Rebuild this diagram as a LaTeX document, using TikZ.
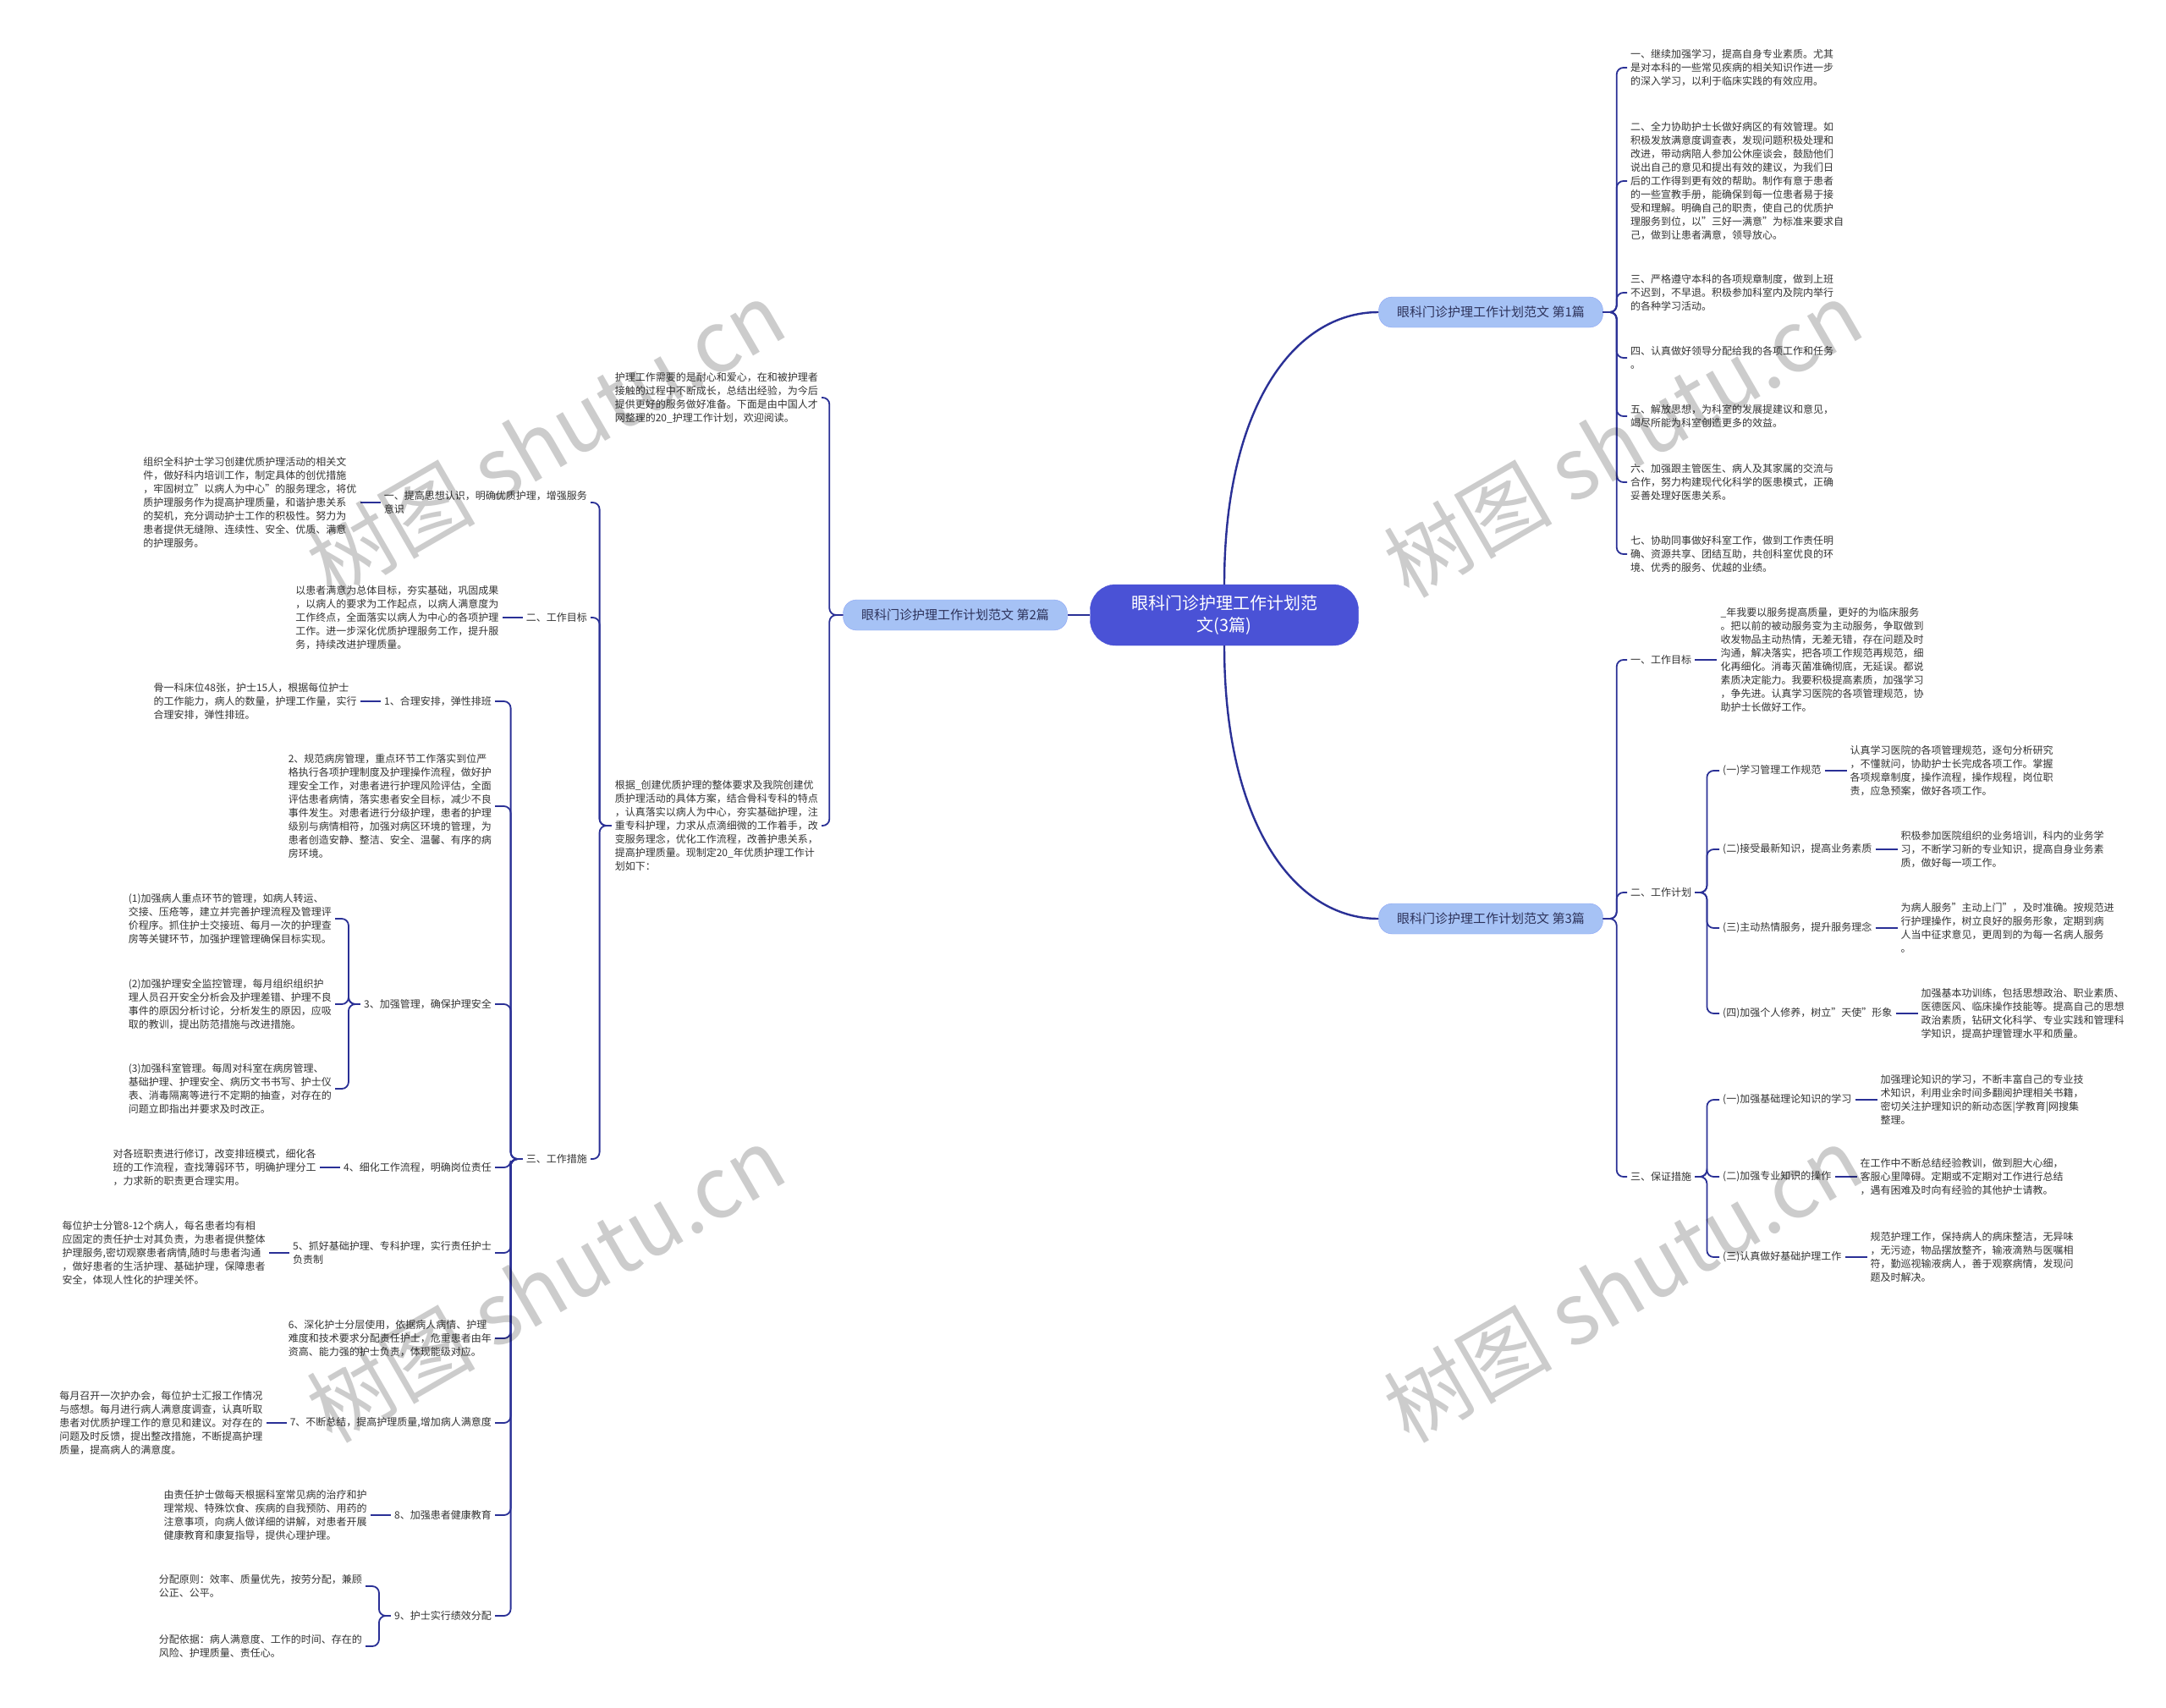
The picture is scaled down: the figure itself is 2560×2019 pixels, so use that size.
\documentclass[tikz,border=0pt]{standalone}
\usepackage{fontspec}
\setmainfont{Noto Sans CJK SC}
\usepackage{xcolor}
\usepackage{tikz}
\usetikzlibrary{positioning}
\definecolor{linecol}{RGB}{42,48,150}
\definecolor{rootcol}{RGB}{74,82,214}
\definecolor{branchcol}{RGB}{166,194,245}
\definecolor{textcol}{RGB}{51,51,51}
\tikzstyle{root} = [draw=rootcol, fill=rootcol, text=white, rounded corners=30pt, minimum width=317pt, minimum height=72pt, align=center, font=\fontsize{20}{26}\selectfont]
\tikzstyle{branch} = [draw=branchcol!85!blue, fill=branchcol, text={rgb,255:red,45;green,50;blue,90}, rounded corners=16pt, minimum width=265pt, minimum height=36pt, font=\fontsize{15}{18}\selectfont]
\tikzstyle{topic} = [inner xsep=4pt, inner ysep=2pt, align=left, text=textcol, font=\fontsize{12}{16}\selectfont]
\tikzstyle{detail} = [topic]
\tikzstyle{conn} = [draw=linecol, line width=1.8pt, rounded corners=8pt]
\tikzstyle{trunk} = [draw=linecol, line width=2.4pt]
\tikzstyle{wmark} = [rotate=30, text=black, text opacity=0.2, font=\fontsize{100}{110}\selectfont]

\begin{document}
\begin{tikzpicture}[x=1pt, y=-1pt, node distance=24pt]
    % 背景
    \path [fill=white] (0,0) rectangle (2560,2019);

    % 中心主题
    \node [root] (root) at (1447,727) {眼科门诊护理工作计划范\\文(3篇)};
    \node [branch] (B1) at (1762,369) {眼科门诊护理工作计划范文 第1篇};
    \node [branch] (B2) at (1129,727) {眼科门诊护理工作计划范文 第2篇};
    \node [branch] (B3) at (1762,1086) {眼科门诊护理工作计划范文 第3篇};

    \draw [trunk] (root.north) .. controls +(0,-210) and +(-100,0) .. (B1.west);
    \draw [trunk] (root.south) .. controls +(0,210) and +(-100,0) .. (B3.west);
    \draw [trunk] (root.west) -- (B2.east);

    % 第1篇
    \node [detail, anchor=west] (P1) at (1923,80) {一、继续加强学习，提高自身专业素质。尤其\\是对本科的一些常见疾病的相关知识作进一步\\的深入学习，以利于临床实践的有效应用。};
    \node [detail, anchor=west] (P2) at (1923,214) {二、全力协助护士长做好病区的有效管理。如\\积极发放满意度调查表，发现问题积极处理和\\改进，带动病陪人参加公休座谈会，鼓励他们\\说出自己的意见和提出有效的建议，为我们日\\后的工作得到更有效的帮助。制作有意于患者\\的一些宣教手册，能确保到每一位患者易于接\\受和理解。明确自己的职责，使自己的优质护\\理服务到位，以"三好一满意"为标准来要求自\\己，做到让患者满意，领导放心。};
    \node [detail, anchor=west] (P3) at (1923,346) {三、严格遵守本科的各项规章制度，做到上班\\不迟到，不早退。积极参加科室内及院内举行\\的各种学习活动。};
    \node [detail, anchor=west] (P4) at (1923,423) {四、认真做好领导分配给我的各项工作和任务\\。};
    \node [detail, anchor=west] (P5) at (1923,492) {五、解放思想，为科室的发展提建议和意见，\\竭尽所能为科室创造更多的效益。};
    \node [detail, anchor=west] (P6) at (1923,570) {六、加强跟主管医生、病人及其家属的交流与\\合作，努力构建现代化科学的医患模式，正确\\妥善处理好医患关系。};
    \node [detail, anchor=west] (P7) at (1923,655) {七、协助同事做好科室工作，做到工作责任明\\确、资源共享、团结互助，共创科室优良的环\\境、优秀的服务、优越的业绩。};

    \draw [conn] (B1.east) -- ++(16,0) |- (P1.west);
    \draw [conn] (B1.east) -- ++(16,0) |- (P2.west);
    \draw [conn] (B1.east) -- ++(16,0) |- (P3.west);
    \draw [conn] (B1.east) -- ++(16,0) |- (P4.west);
    \draw [conn] (B1.east) -- ++(16,0) |- (P5.west);
    \draw [conn] (B1.east) -- ++(16,0) |- (P6.west);
    \draw [conn] (B1.east) -- ++(16,0) |- (P7.west);

    % 第3篇
    \node [topic, anchor=west] (L31) at (1923,780) {一、工作目标};
    \node [detail, right=26pt of L31] (L31t) {\_年我要以服务提高质量，更好的为临床服务\\。把以前的被动服务变为主动服务，争取做到\\收发物品主动热情，无差无错，存在问题及时\\沟通，解决落实，把各项工作规范再规范，细\\化再细化。消毒灭菌准确彻底，无延误。都说\\素质决定能力。我要积极提高素质，加强学习\\，争先进。认真学习医院的各项管理规范，协\\助护士长做好工作。};
    \node [topic, anchor=west] (L32) at (1923,1055) {二、工作计划};
    \node [topic, anchor=west] (L321) at (2032,911) {(一)学习管理工作规范};
    \node [detail, right=26pt of L321] (L321t) {认真学习医院的各项管理规范，逐句分析研究\\，不懂就问，协助护士长完成各项工作。掌握\\各项规章制度，操作流程，操作规程，岗位职\\责，应急预案，做好各项工作。};
    \node [topic, anchor=west] (L322) at (2032,1004) {(二)接受最新知识，提高业务素质};
    \node [detail, right=26pt of L322] (L322t) {积极参加医院组织的业务培训，科内的业务学\\习，不断学习新的专业知识，提高自身业务素\\质，做好每一项工作。};
    \node [topic, anchor=west] (L323) at (2032,1097) {(三)主动热情服务，提升服务理念};
    \node [detail, right=26pt of L323] (L323t) {为病人服务"主动上门"，及时准确。按规范进\\行护理操作，树立良好的服务形象，定期到病\\人当中征求意见，更周到的为每一名病人服务\\。};
    \node [topic, anchor=west] (L324) at (2032,1198) {(四)加强个人修养，树立"天使"形象};
    \node [detail, right=26pt of L324] (L324t) {加强基本功训练，包括思想政治、职业素质、\\医德医风、临床操作技能等。提高自己的思想\\政治素质，钻研文化科学、专业实践和管理科\\学知识，提高护理管理水平和质量。};
    \node [topic, anchor=west] (L33) at (1923,1391) {三、保证措施};
    \node [topic, anchor=west] (L331) at (2032,1300) {(一)加强基础理论知识的学习};
    \node [detail, right=26pt of L331] (L331t) {加强理论知识的学习，不断丰富自己的专业技\\术知识，利用业余时间多翻阅护理相关书籍，\\密切关注护理知识的新动态医|学教育|网搜集\\整理。};
    \node [topic, anchor=west] (L332) at (2032,1391) {(二)加强专业知识的操作};
    \node [detail, right=26pt of L332] (L332t) {在工作中不断总结经验教训，做到胆大心细，\\客服心里障碍。定期或不定期对工作进行总结\\，遇有困难及时向有经验的其他护士请教。};
    \node [topic, anchor=west] (L333) at (2032,1486) {(三)认真做好基础护理工作};
    \node [detail, right=26pt of L333] (L333t) {规范护理工作，保持病人的病床整洁，无异味\\，无污迹，物品摆放整齐，输液滴熟与医嘱相\\符，勤巡视输液病人，善于观察病情，发现问\\题及时解决。};

    \draw [conn] (B3.east) -- ++(16,0) |- (L31.west);
    \draw [conn] (B3.east) -- ++(16,0) |- (L32.west);
    \draw [conn] (B3.east) -- ++(16,0) |- (L33.west);
    \draw [conn] (L31.east) -- (L31t.west);
    \draw [conn] (L32.east) -- ++(14,0) |- (L321.west);
    \draw [conn] (L32.east) -- ++(14,0) |- (L322.west);
    \draw [conn] (L32.east) -- ++(14,0) |- (L323.west);
    \draw [conn] (L32.east) -- ++(14,0) |- (L324.west);
    \draw [conn] (L33.east) -- ++(14,0) |- (L331.west);
    \draw [conn] (L33.east) -- ++(14,0) |- (L332.west);
    \draw [conn] (L33.east) -- ++(14,0) |- (L333.west);
    \draw [conn] (L321.east) -- (L321t.west);
    \draw [conn] (L322.east) -- (L322t.west);
    \draw [conn] (L323.east) -- (L323t.west);
    \draw [conn] (L324.east) -- (L324t.west);
    \draw [conn] (L331.east) -- (L331t.west);
    \draw [conn] (L332.east) -- (L332t.west);
    \draw [conn] (L333.east) -- (L333t.west);

    % 第2篇
    \node [detail, anchor=east] (I0) at (971,470) {护理工作需要的是耐心和爱心，在和被护理者\\接触的过程中不断成长，总结出经验，为今后\\提供更好的服务做好准备。下面是由中国人才\\网整理的20\_护理工作计划，欢迎阅读。};
    \node [detail, anchor=east] (I1) at (971,976) {根据\_创建优质护理的整体要求及我院创建优\\质护理活动的具体方案，结合骨科专科的特点\\，认真落实以病人为中心，夯实基础护理，注\\重专科护理，力求从点滴细微的工作着手，改\\变服务理念，优化工作流程，改善护患关系，\\提高护理质量。现制定20\_年优质护理工作计\\划如下：};
    \node [topic, anchor=east] (M1) at (698,594) {一、提高思想认识，明确优质护理，增强服务\\意识};
    \node [detail, left=24pt of M1] (M1t) {组织全科护士学习创建优质护理活动的相关文\\件，做好科内培训工作，制定具体的创优措施\\，牢固树立"以病人为中心"的服务理念，将优\\质护理服务作为提高护理质量，和谐护患关系\\的契机，充分调动护士工作的积极性。努力为\\患者提供无缝隙、连续性、安全、优质、满意\\的护理服务。};
    \node [topic, anchor=east] (M2) at (698,730) {二、工作目标};
    \node [detail, left=24pt of M2] (M2t) {以患者满意为总体目标，夯实基础，巩固成果\\，以病人的要求为工作起点，以病人满意度为\\工作终点，全面落实以病人为中心的各项护理\\工作。进一步深化优质护理服务工作，提升服\\务，持续改进护理质量。};
    \node [topic, anchor=east] (M3) at (698,1370) {三、工作措施};

    \node [topic, anchor=east] (N1) at (585,829) {1、合理安排，弹性排班};
    \node [detail, left=24pt of N1] (N1t) {骨一科床位48张，护士15人，根据每位护士\\的工作能力，病人的数量，护理工作量，实行\\合理安排，弹性排班。};
    \node [detail, anchor=east] (N2) at (585,953) {2、规范病房管理，重点环节工作落实到位严\\格执行各项护理制度及护理操作流程，做好护\\理安全工作，对患者进行护理风险评估，全面\\评估患者病情，落实患者安全目标，减少不良\\事件发生。对患者进行分级护理，患者的护理\\级别与病情相符，加强对病区环境的管理，为\\患者创造安静、整洁、安全、温馨、有序的病\\房环境。};
    \node [topic, anchor=east] (N3) at (585,1187) {3、加强管理，确保护理安全};
    \node [detail, anchor=east] (N31) at (396,1086) {(1)加强病人重点环节的管理，如病人转运、\\交接、压疮等，建立并完善护理流程及管理评\\价程序。抓住护士交接班、每月一次的护理查\\房等关键环节，加强护理管理确保目标实现。};
    \node [detail, anchor=east] (N32) at (396,1187) {(2)加强护理安全监控管理，每月组织组织护\\理人员召开安全分析会及护理差错、护理不良\\事件的原因分析讨论，分析发生的原因，应吸\\取的教训，提出防范措施与改进措施。};
    \node [detail, anchor=east] (N33) at (396,1287) {(3)加强科室管理。每周对科室在病房管理、\\基础护理、护理安全、病历文书书写、护士仪\\表、消毒隔离等进行不定期的抽查，对存在的\\问题立即指出并要求及时改正。};
    \node [topic, anchor=east] (N4) at (585,1380) {4、细化工作流程，明确岗位责任};
    \node [detail, left=24pt of N4] (N4t) {对各班职责进行修订，改变排班模式，细化各\\班的工作流程，查找薄弱环节，明确护理分工\\，力求新的职责更合理实用。};
    \node [topic, anchor=east] (N5) at (585,1481) {5、抓好基础护理、专科护理，实行责任护士\\负责制};
    \node [detail, left=24pt of N5] (N5t) {每位护士分管8-12个病人，每名患者均有相\\应固定的责任护士对其负责，为患者提供整体\\护理服务,密切观察患者病情,随时与患者沟通\\，做好患者的生活护理、基础护理，保障患者\\安全，体现人性化的护理关怀。};
    \node [detail, anchor=east] (N6) at (585,1582) {6、深化护士分层使用，依据病人病情、护理\\难度和技术要求分配责任护士，危重患者由年\\资高、能力强的护士负责，体现能级对应。};
    \node [topic, anchor=east] (N7) at (585,1682) {7、不断总结，提高护理质量,增加病人满意度};
    \node [detail, left=24pt of N7] (N7t) {每月召开一次护办会，每位护士汇报工作情况\\与感想。每月进行病人满意度调查，认真听取\\患者对优质护理工作的意见和建议。对存在的\\问题及时反馈，提出整改措施，不断提高护理\\质量，提高病人的满意度。};
    \node [topic, anchor=east] (N8) at (585,1791) {8、加强患者健康教育};
    \node [detail, left=24pt of N8] (N8t) {由责任护士做每天根据科室常见病的治疗和护\\理常规、特殊饮食、疾病的自我预防、用药的\\注意事项，向病人做详细的讲解，对患者开展\\健康教育和康复指导，提供心理护理。};
    \node [topic, anchor=east] (N9) at (585,1910) {9、护士实行绩效分配};
    \node [detail, anchor=east] (N91) at (432,1875) {分配原则：效率、质量优先，按劳分配，兼顾\\公正、公平。};
    \node [detail, anchor=east] (N92) at (432,1946) {分配依据：病人满意度、工作的时间、存在的\\风险、护理质量、责任心。};

    \draw [conn] (B2.west) -- ++(-16,0) |- (I0.east);
    \draw [conn] (B2.west) -- ++(-16,0) |- (I1.east);
    \draw [conn] (I1.west) -- ++(-14,0) |- (M1.east);
    \draw [conn] (I1.west) -- ++(-14,0) |- (M2.east);
    \draw [conn] (I1.west) -- ++(-14,0) |- (M3.east);
    \draw [conn] (M1.west) -- (M1t.east);
    \draw [conn] (M2.west) -- (M2t.east);
    \draw [conn] (M3.west) -- ++(-14,0) |- (N1.east);
    \draw [conn] (M3.west) -- ++(-14,0) |- (N2.east);
    \draw [conn] (M3.west) -- ++(-14,0) |- (N3.east);
    \draw [conn] (M3.west) -- ++(-14,0) |- (N4.east);
    \draw [conn] (M3.west) -- ++(-14,0) |- (N5.east);
    \draw [conn] (M3.west) -- ++(-14,0) |- (N6.east);
    \draw [conn] (M3.west) -- ++(-14,0) |- (N7.east);
    \draw [conn] (M3.west) -- ++(-14,0) |- (N8.east);
    \draw [conn] (M3.west) -- ++(-14,0) |- (N9.east);
    \draw [conn] (N1.west) -- (N1t.east);
    \draw [conn] (N3.west) -- ++(-14,0) |- (N31.east);
    \draw [conn] (N3.west) -- ++(-14,0) |- (N32.east);
    \draw [conn] (N3.west) -- ++(-14,0) |- (N33.east);
    \draw [conn] (N4.west) -- (N4t.east);
    \draw [conn] (N5.west) -- (N5t.east);
    \draw [conn] (N7.west) -- (N7t.east);
    \draw [conn] (N8.west) -- (N8t.east);
    \draw [conn] (N9.west) -- ++(-14,0) |- (N91.east);
    \draw [conn] (N9.west) -- ++(-14,0) |- (N92.east);

    % 水印
    \node [wmark] (wm1) at (645,519) {树图 shutu.cn};
    \node [wmark] (wm2) at (1918,519) {树图 shutu.cn};
    \node [wmark] (wm3) at (645,1518) {树图 shutu.cn};
    \node [wmark] (wm4) at (1918,1518) {树图 shutu.cn};
\end{tikzpicture}
\end{document}
